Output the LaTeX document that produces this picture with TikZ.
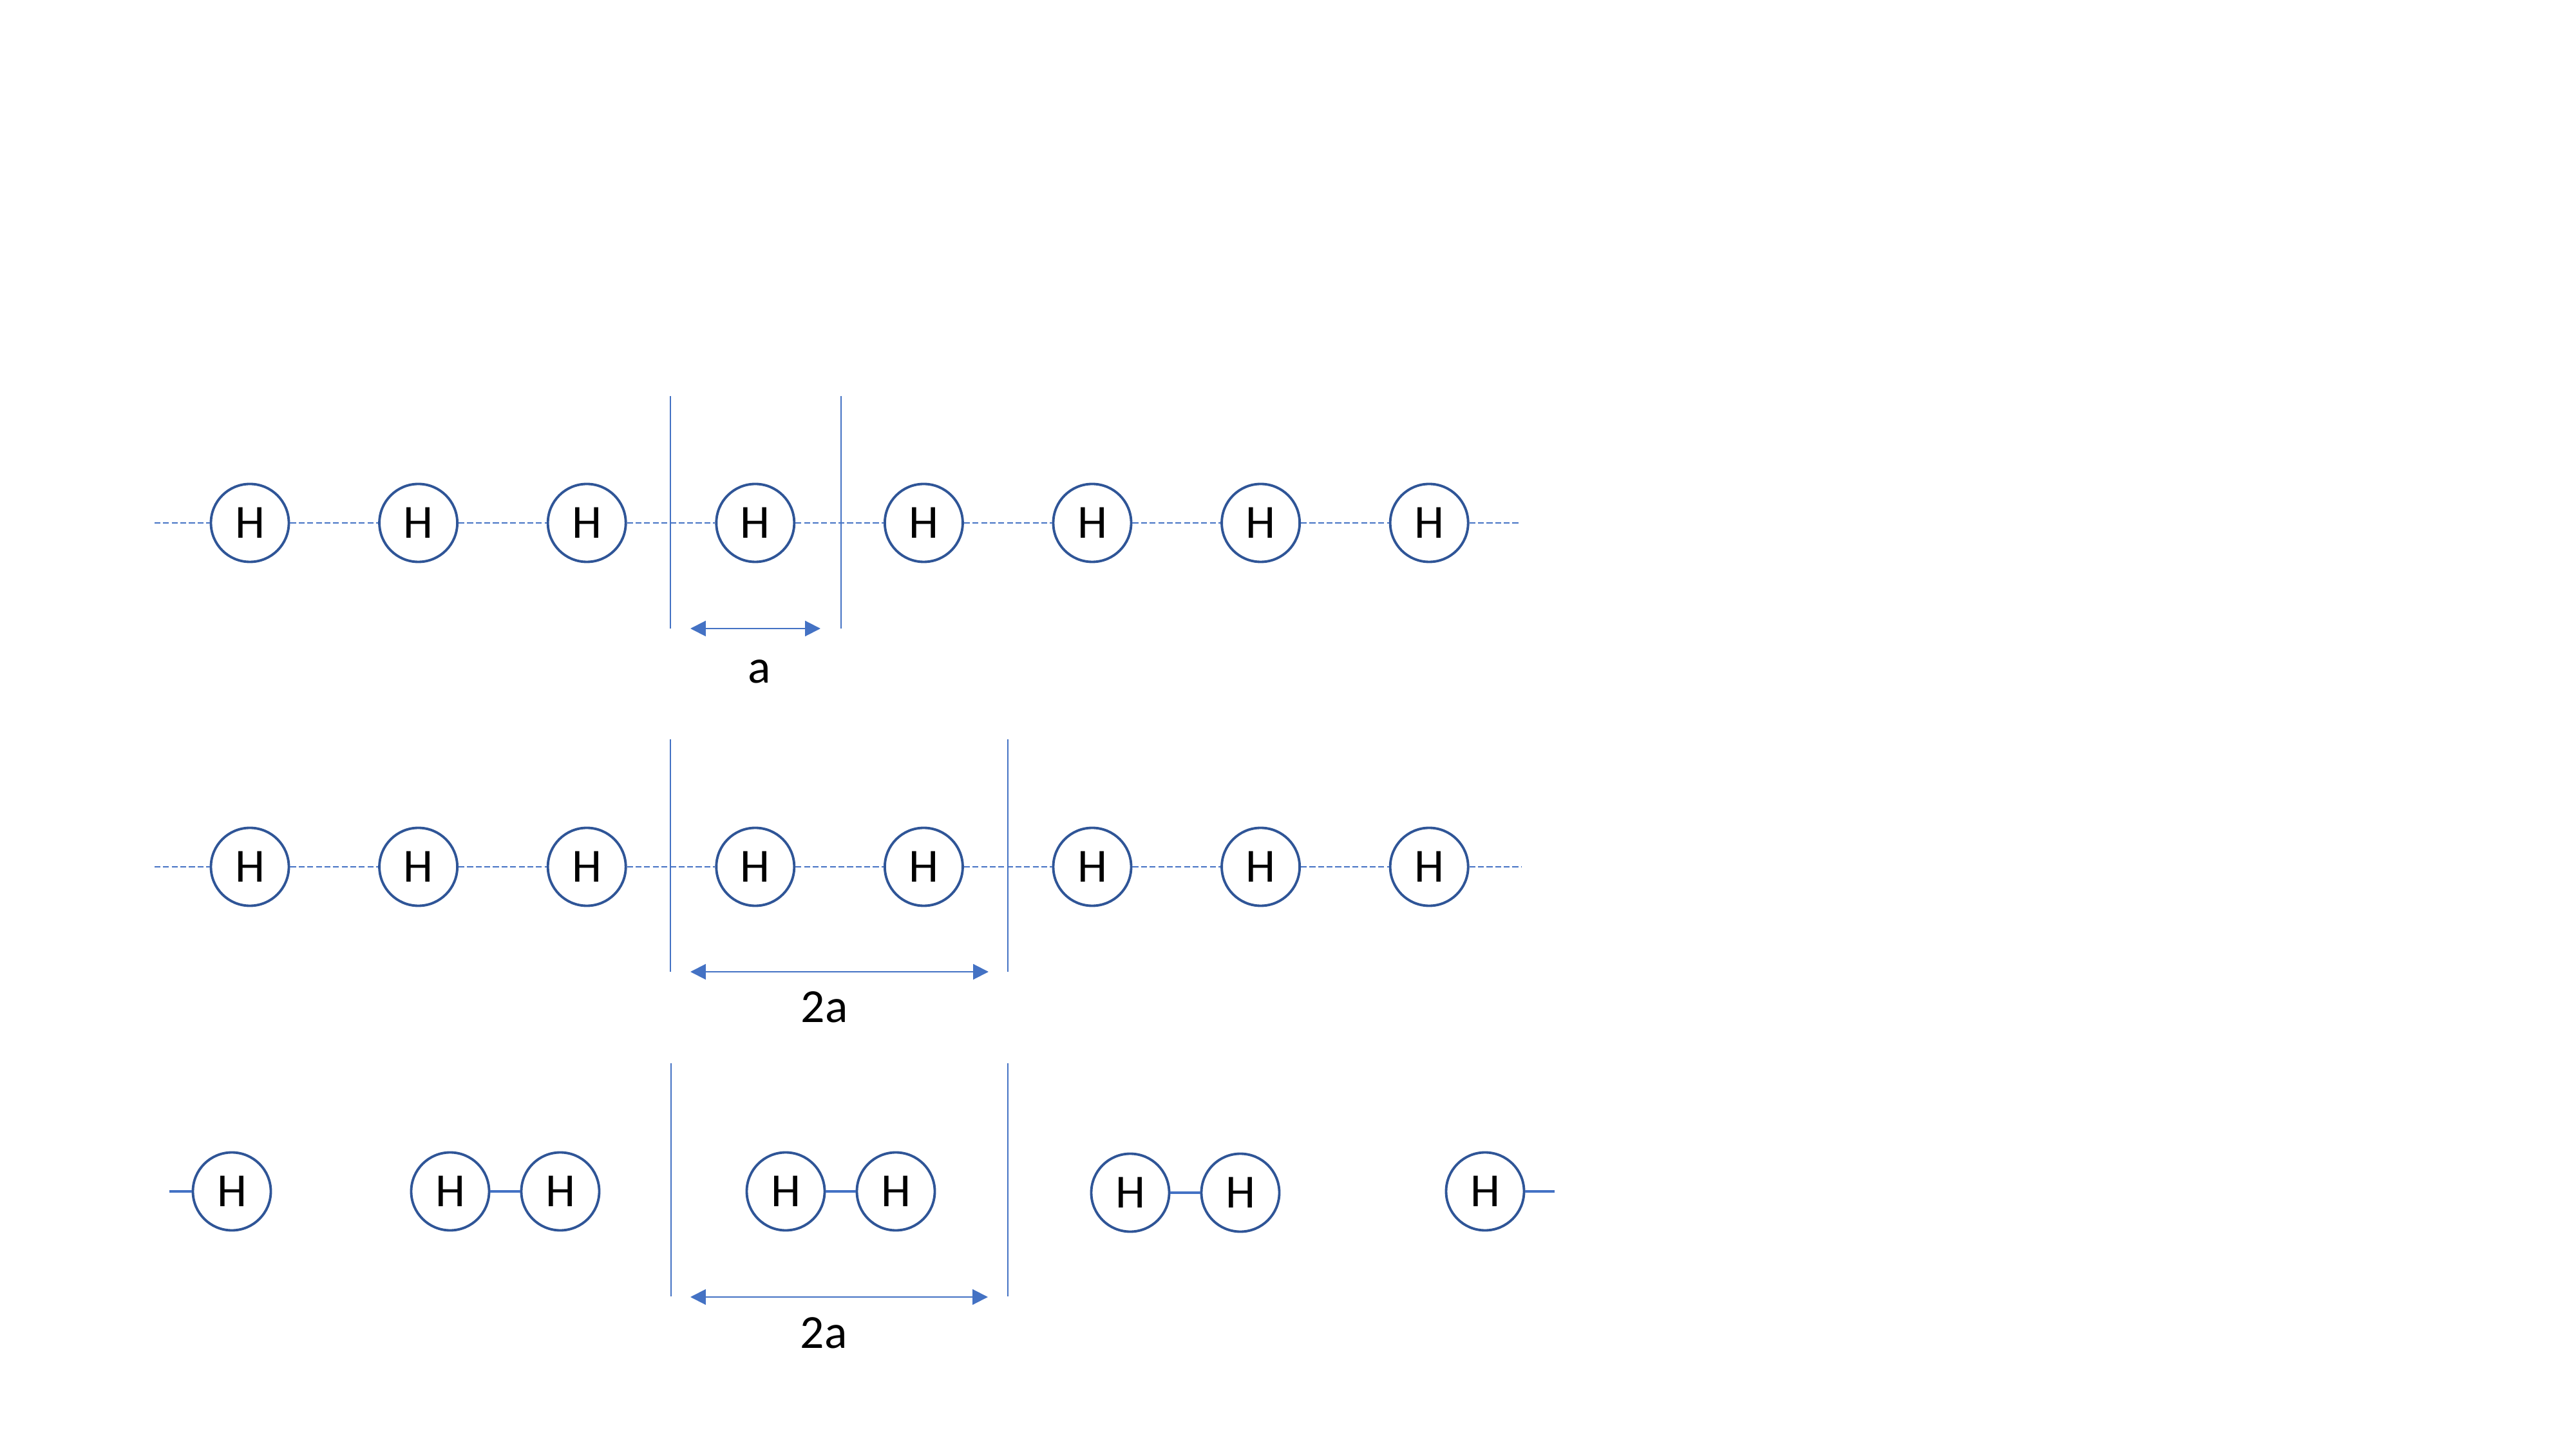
\documentclass[tikz,border=0pt]{standalone}
\usepackage{fontspec}
\setmainfont{Carlito}
\usetikzlibrary{positioning,arrows.meta}

\definecolor{lineblue}{HTML}{4472C4}
\definecolor{ringblue}{HTML}{2F5597}

\tikzset{
    atom/.style={circle, draw=ringblue, line width=1.1pt, fill=white,
        minimum size=1.21cm, inner sep=0pt, font=\fontsize{21}{25}\selectfont},
    hchain/.style={lineblue, line width=0.7pt, dash pattern=on 2.6pt off 1.2pt},
    hbond/.style={lineblue, line width=1.1pt},
    cellwall/.style={lineblue, line width=0.35pt},
    cellspan/.style={lineblue, line width=0.6pt,
        {Triangle[length=6.8pt,width=6.8pt]}-{Triangle[length=6.8pt,width=6.8pt]}},
    celllabel/.style={font=\fontsize{21}{25}\selectfont, anchor=base, inner sep=0pt},
}

\begin{document}
\begin{tikzpicture}[on grid, node distance=2.616cm]
    \useasboundingbox (0,0) rectangle (40,-22.5);

    % chain, period a
    \node[atom] (a1) at (3.88,-8.12) {H};
    \node[atom, right=of a1] (a2) {H};
    \node[atom, right=of a2] (a3) {H};
    \node[atom, right=of a3] (a4) {H};
    \node[atom, right=of a4] (a5) {H};
    \node[atom, right=of a5] (a6) {H};
    \node[atom, right=of a6] (a7) {H};
    \node[atom, right=of a7] (a8) {H};
    \coordinate (la) at (2.40,-8.12);
    \coordinate (ra) at (23.60,-8.12);
    \draw[hchain] (la) -- (a1) -- (a2) -- (a3) -- (a4) -- (a5) -- (a6) -- (a7) -- (a8) -- (ra);

    \draw[cellwall] (10.41,-6.15) coordinate (ta1) -- (10.41,-9.76) coordinate (ba1);
    \draw[cellwall] (13.06,-6.15) coordinate (ta2) -- (13.06,-9.76) coordinate (ba2);
    \coordinate (sa1) at (10.72,-9.76);
    \coordinate (sa2) at (12.74,-9.76);
    \draw[cellspan] (sa1) -- (sa2);
    \node[celllabel] (la1) at (11.79,-10.61) {a};

    % same chain, doubled cell
    \node[atom] (b1) at (3.88,-13.46) {H};
    \node[atom, right=of b1] (b2) {H};
    \node[atom, right=of b2] (b3) {H};
    \node[atom, right=of b3] (b4) {H};
    \node[atom, right=of b4] (b5) {H};
    \node[atom, right=of b5] (b6) {H};
    \node[atom, right=of b6] (b7) {H};
    \node[atom, right=of b7] (b8) {H};
    \coordinate (lb) at (2.40,-13.46);
    \coordinate (rb) at (23.62,-13.46);
    \draw[hchain] (lb) -- (b1) -- (b2) -- (b3) -- (b4) -- (b5) -- (b6) -- (b7) -- (b8) -- (rb);

    \draw[cellwall] (10.41,-11.48) coordinate (tb1) -- (10.41,-15.09) coordinate (bb1);
    \draw[cellwall] (15.65,-11.48) coordinate (tb2) -- (15.65,-15.09) coordinate (bb2);
    \coordinate (sb1) at (10.72,-15.09);
    \coordinate (sb2) at (15.35,-15.09);
    \draw[cellspan] (sb1) -- (sb2);
    \node[celllabel] (lb1) at (12.80,-15.87) {2a};

    % dimerised chain
    \node[atom] (c1) at (3.60,-18.50) {H};
    \node[atom] (c2) at (6.99,-18.50) {H};
    \node[atom, right=1.71cm of c2] (c3) {H};
    \node[atom] (c4) at (12.20,-18.50) {H};
    \node[atom, right=1.71cm of c4] (c5) {H};
    \node[atom] (c6) at (17.55,-18.52) {H};
    \node[atom, right=1.71cm of c6] (c7) {H};
    \node[atom] (c8) at (23.06,-18.50) {H};
    \coordinate (lc) at (2.63,-18.50);
    \coordinate (rc) at (24.14,-18.50);
    \draw[hbond] (lc) -- (c1);
    \draw[hbond] (c2) -- (c3);
    \draw[hbond] (c4) -- (c5);
    \draw[hbond] (c6) -- (c7);
    \draw[hbond] (c8) -- (rc);

    \draw[cellwall] (10.42,-16.51) coordinate (tc1) -- (10.42,-20.13) coordinate (bc1);
    \draw[cellwall] (15.65,-16.51) coordinate (tc2) -- (15.65,-20.13) coordinate (bc2);
    \coordinate (sc1) at (10.72,-20.14);
    \coordinate (sc2) at (15.34,-20.14);
    \draw[cellspan] (sc1) -- (sc2);
    \node[celllabel] (lc1) at (12.79,-20.93) {2a};
\end{tikzpicture}
\end{document}
